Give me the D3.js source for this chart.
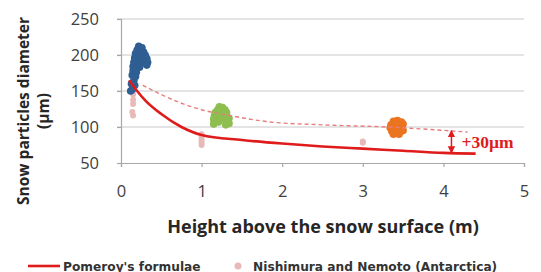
<!DOCTYPE html>
<html>
<head>
<meta charset="utf-8">
<script src="https://cdn.jsdelivr.net/npm/d3@7"></script>
<style>
  body { margin: 0; background: #fff; }
  svg { display: block; }
</style>
</head>
<body>
<svg id="chart" width="541" height="272"></svg>
<script>
// ── data ──
const xTicks = [0, 1, 2, 3, 4, 5];
const yTicks = [50, 100, 150, 200, 250];

// Pomeroy's formulae (solid red curve)
const pomeroy = [[0.1, 165], [0.2, 150], [0.3, 137], [0.5, 118], [0.75, 100], [1, 89],
  [1.5, 82], [2, 77], [2.5, 73], [3, 70], [3.5, 67], [4, 64], [4.4, 63]];
// fitted to measurements (dashed)
const fitted = [[0.27, 158], [0.5, 145], [0.75, 133], [1, 124], [1.3, 117], [1.85, 107],
  [2.5, 103], [3.3, 100], [4.3, 93]];

const nishimura = [[0.15, 145], [0.15, 138], [0.15, 132], [0.14, 121], [0.15, 116],
  [1, 90], [1, 86], [1, 82], [1, 78], [1, 75], [3, 80], [3, 78]];

const blue = [[0.22, 212], [0.26, 210], [0.2, 207], [0.24, 205], [0.28, 204], [0.3, 200],
  [0.18, 202], [0.22, 200], [0.26, 198], [0.17, 196], [0.21, 195], [0.25, 193], [0.32, 195],
  [0.33, 190], [0.32, 186], [0.16, 190], [0.2, 188], [0.24, 188], [0.15, 184], [0.19, 182],
  [0.23, 183], [0.15, 178], [0.19, 176], [0.14, 172], [0.18, 170], [0.16, 165], [0.13, 160],
  [0.17, 158], [0.14, 152], [0.12, 150]];
const green = [[1.22, 128], [1.26, 127], [1.2, 124], [1.25, 123], [1.29, 124], [1.17, 120],
  [1.22, 120], [1.27, 119], [1.31, 120], [1.16, 116], [1.21, 115], [1.26, 116], [1.31, 115],
  [1.15, 111], [1.2, 112], [1.25, 111], [1.3, 111], [1.34, 112], [1.16, 107], [1.21, 107],
  [1.31, 107], [1.34, 105], [1.15, 104], [1.3, 103]];
const orange = [[3.38, 108], [3.43, 109], [3.48, 107], [3.35, 103], [3.4, 104], [3.45, 103],
  [3.5, 104], [3.34, 99], [3.39, 98], [3.44, 99], [3.49, 98], [3.36, 94], [3.41, 93],
  [3.46, 94], [3.5, 95], [3.38, 90], [3.45, 90]];

const gap = { x: 4.1, from: 95, to: 64, label: "+30µm" };

const legendItems = [
  { label: "Pomeroy's formulae", type: "line", color: "#e01b1b" },
  { label: "Nishimura and Nemoto (Antarctica)", type: "dot", color: "#e8b9b8" },
];

// ── layout ──
const svg = d3.select("#chart");
const x = d3.scaleLinear().domain([0, 5]).range([121, 524]);
const y = d3.scaleLinear().domain([50, 250]).range([163, 19]);
const font = "'Open Sans', sans-serif";

// gridlines
svg.append("g").selectAll("line")
  .data(yTicks.filter(d => d > 50))
  .join("line")
  .attr("x1", x(0) - 4).attr("x2", x(5))
  .attr("y1", d => y(d)).attr("y2", d => y(d))
  .attr("stroke", "#c9c9c9").attr("stroke-width", 1.2);

// axes
const yAxis = svg.append("g").attr("transform", `translate(${x(0)},0)`)
  .call(d3.axisLeft(y).tickValues(yTicks).tickSize(4).tickPadding(18));
const xAxis = svg.append("g").attr("transform", `translate(0,${y(50)})`)
  .call(d3.axisBottom(x).tickValues(xTicks).tickFormat(d3.format("d")).tickSize(4).tickPadding(18));
[yAxis, xAxis].forEach(a => {
  a.select(".domain").attr("stroke", "#a8a8a8").attr("stroke-width", 1.2);
  a.selectAll(".tick line").attr("stroke", "#a8a8a8").attr("stroke-width", 1.2);
  a.selectAll("text").attr("font-family", font).attr("font-size", 16.5).attr("fill", "#404040");
});

// scatter clusters
const dots = (data, color, r) => svg.append("g").selectAll("circle")
  .data(data).join("circle")
  .attr("cx", d => x(d[0])).attr("cy", d => y(d[1])).attr("r", r)
  .attr("fill", color);
dots(nishimura, "#e8b9b8", 3);
dots(blue, "#2f5e93", 3.8);
dots(green, "#8dbe4f", 3.8);
dots(orange, "#ea7420", 3.8);

// curves
const line = d3.line().x(d => x(d[0])).y(d => y(d[1])).curve(d3.curveMonotoneX);
svg.append("path").attr("d", line(fitted))
  .attr("fill", "none").attr("stroke", "#e77d7d").attr("stroke-width", 1.4)
  .attr("stroke-dasharray", "4,3");
svg.append("path").attr("d", line(pomeroy))
  .attr("fill", "none").attr("stroke", "#e01b1b").attr("stroke-width", 2.6);

// +30µm annotation
const defs = svg.append("defs");
defs.append("marker").attr("id", "ah").attr("viewBox", "0 0 10 10")
  .attr("refX", 9).attr("refY", 5).attr("markerWidth", 5).attr("markerHeight", 5)
  .attr("orient", "auto-start-reverse")
  .append("path").attr("d", "M0,0L10,5L0,10z").attr("fill", "#e01b1b");
svg.append("line")
  .attr("x1", x(gap.x)).attr("x2", x(gap.x))
  .attr("y1", y(gap.from)).attr("y2", y(gap.to))
  .attr("stroke", "#e01b1b").attr("stroke-width", 1.5)
  .attr("marker-start", "url(#ah)").attr("marker-end", "url(#ah)");
svg.append("text")
  .attr("x", x(gap.x) + 10).attr("y", (y(gap.from) + y(gap.to)) / 2 + 6)
  .attr("font-family", "'Liberation Serif', serif").attr("font-weight", "bold")
  .attr("font-size", 17.5).attr("fill", "#e01b1b").text(gap.label);

// axis titles
svg.append("text")
  .attr("x", 323).attr("y", 233).attr("text-anchor", "middle")
  .attr("font-family", font).attr("font-weight", "bold").attr("font-size", 18)
  .attr("fill", "#262626").text("Height above the snow surface (m)");
const yt = svg.append("text")
  .attr("transform", "translate(29,111) rotate(-90)").attr("text-anchor", "middle")
  .attr("font-family", font).attr("font-weight", "bold").attr("font-size", 15.5)
  .attr("fill", "#262626");
yt.append("tspan").attr("x", 0).attr("dy", 0).text("Snow particles diameter");
yt.append("tspan").attr("x", 0).attr("dy", 20).text("(µm)");

// legend
const lg = svg.append("g");
const lx = [28, 232];
legendItems.forEach((d, i) => {
  const g = lg.append("g").attr("transform", `translate(${lx[i]},266)`);
  if (d.type === "line") {
    g.append("line").attr("x1", 0).attr("x2", 32).attr("stroke", d.color).attr("stroke-width", 2.6);
    g.append("text").attr("x", 35).attr("y", 4.5).text(d.label);
  } else {
    g.append("circle").attr("cx", 6).attr("r", 3.5).attr("fill", d.color);
    g.append("text").attr("x", 21).attr("y", 4.5).text(d.label);
  }
});
lg.selectAll("text").attr("font-family", "'DejaVu Sans', sans-serif").attr("font-weight", "bold")
  .attr("font-size", 12.2).attr("fill", "#333");
</script>
</body>
</html>
